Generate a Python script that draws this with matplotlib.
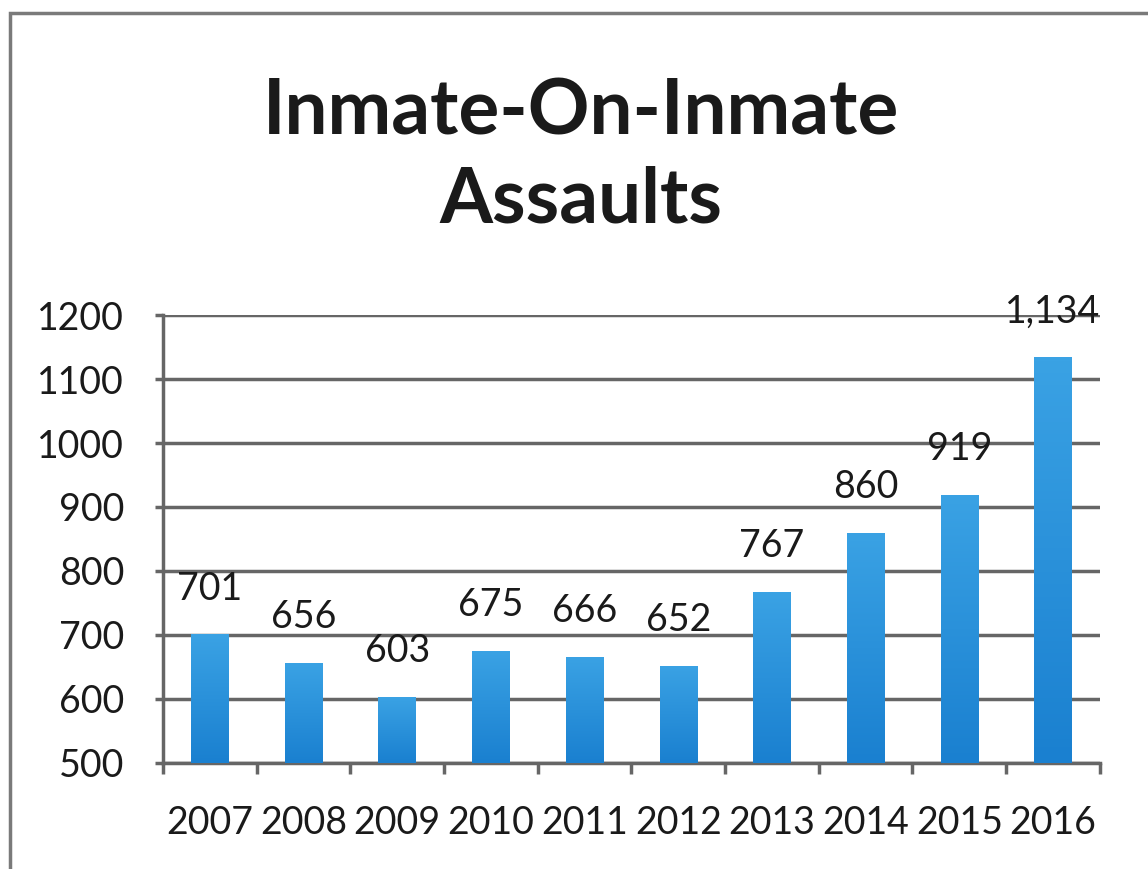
import numpy as np
import matplotlib.pyplot as plt
from matplotlib.patches import Rectangle
from matplotlib.colors import LinearSegmentedColormap

years = ["2007", "2008", "2009", "2010", "2011", "2012", "2013", "2014", "2015", "2016"]
assaults = [701, 656, 603, 675, 666, 652, 767, 860, 919, 1134]
labels = ["701", "656", "603", "675", "666", "652", "767", "860", "919", "1,134"]
yticks = [500, 600, 700, 800, 900, 1000, 1100, 1200]

plt.rcParams['font.family'] = ['Lato', 'DejaVu Sans']

fig = plt.figure(figsize=(11.48, 8.69), dpi=100)
ax = fig.add_axes([0.142, 0.122, 0.816, 0.5155])

# rahmen
fig.patches.append(Rectangle((0.009, -0.05), 1.2, 1.035, transform=fig.transFigure,
                             fill=False, edgecolor="#7a7a7a", linewidth=2.5))

x = list(range(len(years)))
bars = ax.bar(x, [v - 500 for v in assaults], bottom=500, width=0.4,
              color="#2f96dc", zorder=3)

# gradient fill (lighter at top, darker at bottom)
grad_cmap = LinearSegmentedColormap.from_list("blue", ["#1a80d0", "#3aa2e4"])
grad = np.linspace(0, 1, 100).reshape(-1, 1)
for b in bars:
    im = ax.imshow(grad, cmap=grad_cmap, origin="lower", aspect="auto", zorder=3.5,
                   extent=(b.get_x(), b.get_x() + b.get_width(), 500, 500 + b.get_height()))
    im.set_clip_path(b)

for xi, v, lab in zip(x, assaults, labels):
    ax.annotate(lab, (xi, v), xytext=(0, 20), textcoords="offset points",
                ha="center", va="bottom", fontsize=27, color="#1a1a1a", zorder=4)

ax.set_xlim(-0.5, len(years) - 0.5)
ax.set_ylim(500, 1200)
ax.set_yticks(yticks)
ax.set_yticklabels([str(t) for t in yticks], fontsize=27, color="#1a1a1a")
ax.set_xticks(x)
ax.set_xticklabels(years, fontsize=27, color="#1a1a1a")
ax.tick_params(axis="x", length=0, pad=30)
ax.set_xticks([i - 0.5 for i in range(len(years) + 1)], minor=True)
ax.tick_params(axis="x", which="minor", length=8, width=2.5, color="#666666")
ax.tick_params(axis="y", length=6, width=2.5, color="#666666", pad=22)

ax.grid(axis="y", color="#666666", linewidth=2.5, zorder=1)
ax.set_axisbelow(True)
for s in ["top", "right"]:
    ax.spines[s].set_visible(False)
for s in ["left", "bottom"]:
    ax.spines[s].set_color("#666666")
    ax.spines[s].set_linewidth(2.5)

fig.text(0.506, 0.8447, "Inmate-On-Inmate", ha="center", va="baseline",
         fontsize=55, fontweight="bold", color="#1a1a1a")
fig.text(0.506, 0.7434, "Assaults", ha="center", va="baseline",
         fontsize=55, fontweight="bold", color="#1a1a1a")

fig.savefig("out.png", dpi=100, facecolor="white")
